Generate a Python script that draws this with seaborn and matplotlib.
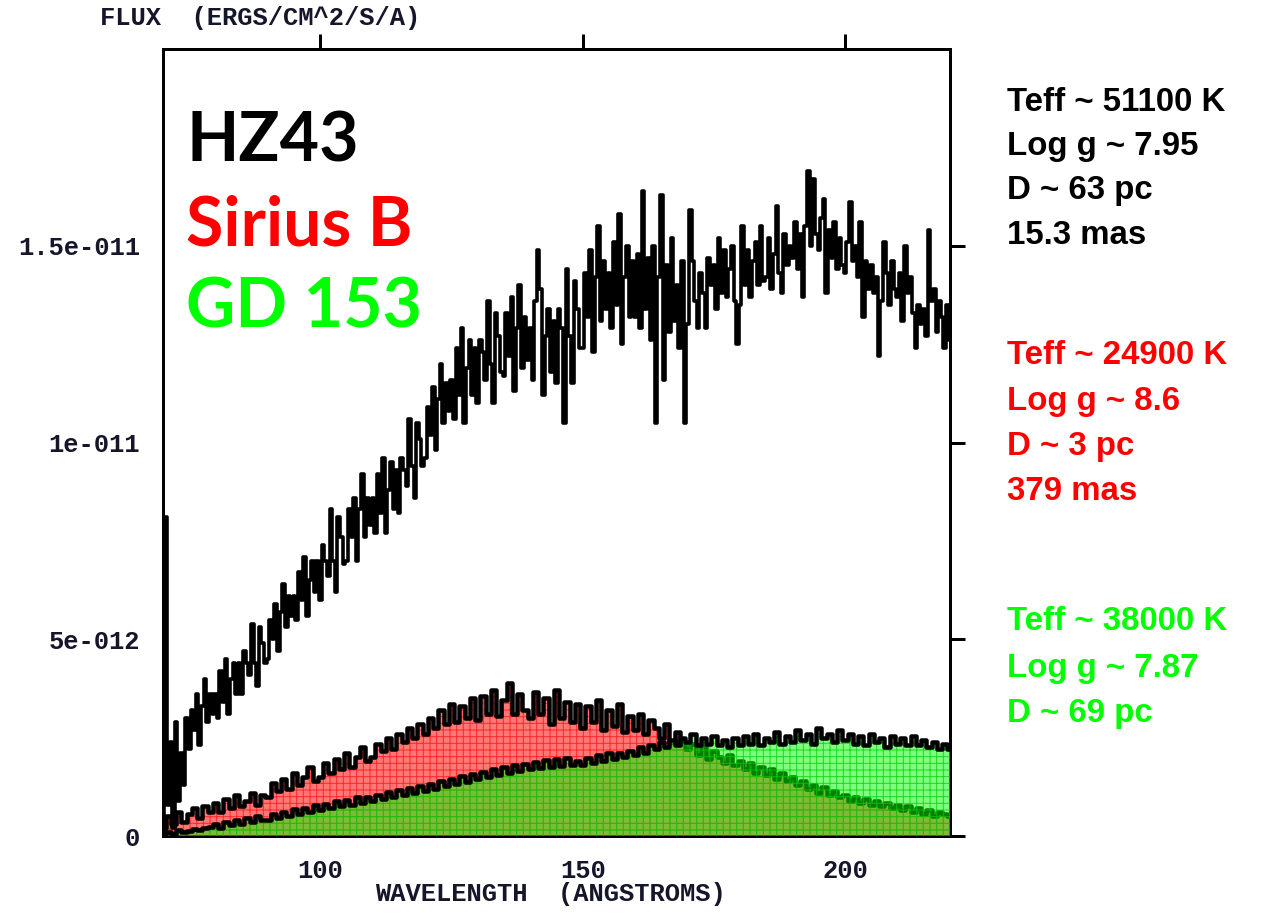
import numpy as np
import matplotlib
matplotlib.use("Agg")
import matplotlib.pyplot as plt
import seaborn as sns

# ---------------- data (flux in units of 1e-12 erg/cm^2/s/A) ----------------
hz43_start, hz43_step = 70.0, 0.5
hz43_flux = [
    0.3, 8.1, 0.8, 2.4, 0.2, 2.9, 0.9, 2.1, 1.3, 3.0,
    2.2, 3.2, 2.7, 3.6, 2.3, 3.3, 4.0, 2.9, 3.6, 3.1,
    3.6, 3.0, 4.2, 3.4, 4.5, 3.1, 4.0, 4.4, 3.6, 4.4,
    3.6, 4.7, 4.4, 4.1, 5.4, 4.4, 3.8, 5.3, 4.9, 4.4,
    4.5, 5.5, 5.0, 5.9, 4.7, 5.7, 6.4, 5.3, 6.1, 5.6,
    6.1, 5.5, 6.7, 6.0, 7.1, 5.6, 6.5, 7.0, 6.2, 7.0,
    6.0, 7.4, 7.0, 6.6, 8.3, 7.0, 6.2, 8.1, 7.6, 6.9,
    7.0, 8.3, 7.6, 8.6, 7.0, 8.3, 9.2, 7.6, 8.6, 7.9,
    8.6, 7.7, 9.2, 8.2, 9.6, 7.7, 8.8, 9.5, 8.3, 9.3,
    8.2, 9.6, 9.3, 8.9, 10.6, 9.4, 8.6, 10.5, 10.1, 9.4,
    9.6, 10.9, 10.2, 11.4, 9.8, 11.1, 12.0, 10.5, 11.5, 10.8,
    11.6, 10.6, 12.4, 11.2, 12.9, 10.5, 11.9, 12.6, 11.2, 12.4,
    11.0, 12.6, 12.3, 11.6, 13.6, 12.0, 11.0, 13.3, 12.7, 11.8,
    11.7, 13.3, 12.2, 13.7, 11.3, 12.9, 14.0, 11.9, 13.2, 12.1,
    12.9, 11.6, 13.6, 14.9, 13.9, 11.2, 12.7, 13.4, 11.8, 13.1,
    11.5, 13.4, 12.9, 10.5, 14.4, 12.7, 11.5, 14.1, 13.4, 12.4,
    12.4, 14.3, 13.2, 14.9, 12.3, 14.2, 15.5, 13.1, 14.6, 13.4,
    14.3, 12.9, 15.1, 13.5, 15.8, 12.5, 14.2, 15.0, 13.2, 14.6,
    13.2, 14.8, 12.9, 16.4, 13.4, 14.7, 12.6, 15.0, 10.5, 14.2,
    16.3, 11.6, 14.5, 12.8, 15.2, 13.1, 14.0, 12.4, 14.6, 10.5,
    13.0, 15.9, 14.6, 13.6, 12.9, 14.3, 13.8, 12.9, 14.7, 14.0,
    14.5, 13.4, 15.2, 13.8, 14.9, 13.7, 14.4, 15.0, 13.6, 12.5,
    13.5, 15.5, 14.0, 14.9, 13.7, 14.6, 15.1, 14.0, 15.5, 14.1,
    14.2, 15.2, 13.9, 14.8, 16.0, 14.3, 13.8, 15.3, 14.5, 15.0,
    14.7, 15.6, 14.4, 15.3, 13.7, 15.5, 16.9, 15.0, 16.7, 15.3,
    14.9, 15.7, 16.2, 13.8, 15.4, 14.7, 15.6, 14.4, 15.2, 14.5,
    14.3, 15.1, 16.1, 14.6, 15.0, 14.2, 15.6, 13.2, 14.6, 13.9,
    14.5, 13.8, 14.2, 12.2, 13.6, 15.1, 14.3, 13.5, 14.6, 13.9,
    13.7, 14.3, 13.1, 15.0, 13.8, 14.2, 13.3, 12.4, 13.5, 13.0,
    13.4, 12.7, 15.4, 13.6, 13.9, 12.8, 13.6, 13.2, 12.4, 13.5,
    12.6,
]

star_start, star_step = 70.0, 1.0
siriusb_flux = [
    0.2, 0.5, 0.3, 0.6, 0.35, 0.55, 0.7, 0.45, 0.75, 0.6,
    0.85, 0.6, 0.95, 0.7, 1.05, 0.75, 0.9, 1.1, 0.8, 1.05,
    1.0, 1.35, 1.15, 1.45, 1.2, 1.6, 1.3, 1.5, 1.75, 1.4,
    1.5, 1.85, 1.6, 1.95, 1.7, 2.1, 1.75, 2.0, 2.25, 1.9,
    2.0, 2.35, 2.15, 2.5, 2.2, 2.6, 2.4, 2.75, 2.5, 2.85,
    2.6, 3.0, 2.75, 3.2, 2.85, 3.35, 2.9, 3.3, 3.0, 3.5,
    2.95, 3.55, 3.1, 3.7, 3.05, 3.45, 3.9, 3.1, 3.6, 3.2,
    3.0, 3.65, 3.1, 3.5, 2.85, 3.7, 3.0, 3.4, 2.9, 3.35,
    2.75, 3.3, 2.9, 3.45, 2.7, 3.2, 2.8, 3.35, 2.65, 3.05,
    2.7, 3.1, 2.6, 2.95, 2.75, 2.5, 2.85, 2.4, 2.65, 2.35,
    2.2, 2.35, 2.05, 2.25, 1.95, 2.15, 2.0, 1.85, 2.05, 1.8,
    1.9, 1.7, 1.85, 1.6, 1.75, 1.55, 1.7, 1.45, 1.6, 1.4,
    1.5, 1.3, 1.4, 1.2, 1.3, 1.1, 1.25, 1.05, 1.15, 1.0,
    1.05, 0.9, 1.0, 0.85, 0.95, 0.8, 0.9, 0.75, 0.85, 0.7,
    0.8, 0.65, 0.75, 0.6, 0.7, 0.55, 0.65, 0.5, 0.6, 0.55,
    0.5,
]
gd153_flux = [
    0.05, 0.1, 0.05, 0.15, 0.1, 0.12, 0.18, 0.15, 0.2, 0.22,
    0.3, 0.2, 0.35, 0.28, 0.4, 0.3, 0.45, 0.35, 0.5, 0.4,
    0.4, 0.55, 0.45, 0.62, 0.5, 0.68, 0.55, 0.72, 0.6, 0.78,
    0.65, 0.82, 0.7, 0.88, 0.75, 0.92, 0.8, 0.98, 0.85, 1.0,
    0.9, 1.05, 0.95, 1.12, 1.0, 1.18, 1.05, 1.22, 1.1, 1.28,
    1.15, 1.32, 1.2, 1.4, 1.28, 1.45, 1.32, 1.52, 1.38, 1.58,
    1.45, 1.62, 1.5, 1.7, 1.55, 1.75, 1.6, 1.8, 1.65, 1.82,
    1.7, 1.88, 1.72, 1.92, 1.75, 1.95, 1.78, 1.98, 1.8, 1.9,
    1.8, 1.98, 1.85, 2.05, 1.9, 2.1, 1.95, 2.12, 2.0, 2.15,
    2.05, 2.25, 2.1, 2.3, 2.2, 2.4, 2.25, 2.45, 2.3, 2.5,
    2.4, 2.6, 2.3, 2.5, 2.35, 2.55, 2.3, 2.45, 2.25, 2.5,
    2.3, 2.55, 2.35, 2.6, 2.3, 2.5, 2.4, 2.65, 2.35, 2.55,
    2.4, 2.7, 2.45, 2.6, 2.35, 2.75, 2.5, 2.6, 2.4, 2.7,
    2.45, 2.6, 2.35, 2.55, 2.3, 2.6, 2.4, 2.5, 2.25, 2.55,
    2.35, 2.5, 2.3, 2.55, 2.3, 2.45, 2.25, 2.4, 2.2, 2.35,
    2.2,
]

x_ticks = [100, 150, 200]
y_ticks = [0, 5e-12, 1e-11, 1.5e-11]
y_tick_labels = ["0", "5e-012", "1e-011", "1.5e-011"]

star_names = ["HZ43", "Sirius B", "GD 153"]
star_colors = ["#000000", "#ff0000", "#00ff00"]
info_blocks = [
    ["Teff ~ 51100 K", "Log g ~ 7.95", "D ~ 63 pc", "15.3 mas"],
    ["Teff ~ 24900 K", "Log g ~ 8.6", "D ~ 3 pc", "379 mas"],
    ["Teff ~ 38000 K", "Log g ~ 7.87", "D ~ 69 pc"],
]

# ---------------- build arrays ----------------
wl_hz = hz43_start + hz43_step * np.arange(len(hz43_flux))
wl_st = star_start + star_step * np.arange(len(siriusb_flux))
f_hz = np.array(hz43_flux) * 1e-12
f_sb = np.array(siriusb_flux) * 1e-12
f_gd = np.array(gd153_flux) * 1e-12

# ---------------- figure ----------------
sns.set_style("white")
DPI = 80
W, H = 1267, 913
plt.rcParams["hatch.linewidth"] = 0.9
fig = plt.figure(figsize=(W / DPI, H / DPI), dpi=DPI)

def px(v):  # pixels -> points
    return v * 72.0 / DPI

ax_l, ax_r, ax_t, ax_b = 163, 950, 49, 836
ax = fig.add_axes([ax_l / W, 1 - ax_b / H, (ax_r - ax_l) / W, (ax_b - ax_t) / H])

# Sirius B (red, hatched)
ax.fill_between(wl_st, 0, f_sb, step="mid", facecolor="#ff7878",
                edgecolor="#ff2a2a", hatch="++", linewidth=0, zorder=1)
sns.lineplot(x=wl_st, y=f_sb, ax=ax, color="black", linewidth=px(4.5),
             drawstyle="steps-mid", estimator=None, sort=False, zorder=2)
# GD 153 (green, translucent, hatched)
ax.fill_between(wl_st, 0, f_gd, step="mid", facecolor=(0.0, 1.0, 0.0, 0.5),
                edgecolor=(0.0, 0.8, 0.0, 0.75), hatch="++", linewidth=0, zorder=3)
sns.lineplot(x=wl_st, y=f_gd, ax=ax, color="black", linewidth=px(4.5),
             drawstyle="steps-mid", estimator=None, sort=False, zorder=4)
# HZ43
sns.lineplot(x=wl_hz, y=f_hz, ax=ax, color="black", linewidth=px(3.6),
             drawstyle="steps-mid", estimator=None, sort=False, zorder=5)

ax.set_xlim(70, 220)
ax.set_ylim(0, 2e-11)
ax.set_xticks(x_ticks)
ax.set_xticklabels([str(t) for t in x_ticks])
ax.set_yticks(y_ticks)
ax.set_yticklabels(y_tick_labels)

tick_font = dict(family="Liberation Mono", weight="bold", size=px(25.5))
label_color = "#16162a"
for lab in ax.get_xticklabels() + ax.get_yticklabels():
    lab.set_fontfamily("Liberation Mono")
    lab.set_fontweight("bold")
    lab.set_fontsize(px(25.5))
    lab.set_color(label_color)

ax.tick_params(axis="both", which="major", direction="out", length=px(15),
               width=px(3), color="black", pad=px(8),
               top=True, right=True, labeltop=False, labelright=False)
for sp in ax.spines.values():
    sp.set_visible(True)
    sp.set_linewidth(px(3))
    sp.set_color("black")

ax.set_xlabel("WAVELENGTH  (ANGSTROMS)", color=label_color, **tick_font)
ax.xaxis.set_label_coords((550 - ax_l) / (ax_r - ax_l), -(882 - ax_b) / (ax_b - ax_t))
ax.xaxis.label.set_va("top")
ax.set_ylabel("FLUX  (ERGS/CM^2/S/A)", rotation=0, ha="left", va="center",
              color=label_color, **tick_font)
ax.yaxis.set_label_coords((100 - ax_l) / (ax_r - ax_l), (ax_b - 18) / (ax_b - ax_t))

ax.grid(False)

# star names in the upper left
name_baselines = [162, 246, 328]
for name, col, yb in zip(star_names, star_colors, name_baselines):
    fig.text(186 / W, 1 - yb / H, name, color=col, fontsize=px(68),
             fontfamily="Lato", fontweight="bold", va="baseline", ha="left")

# parameter blocks on the right
block_baselines = [[111, 155, 199, 244], [364, 410, 455, 500], [630, 677, 722]]
for lines, col, ys in zip(info_blocks, star_colors, block_baselines):
    for txt, yb in zip(lines, ys):
        fig.text(1007 / W, 1 - yb / H, txt, color=col, fontsize=px(33),
                 fontfamily="Liberation Sans", fontweight="bold",
                 va="baseline", ha="left")

fig.savefig("out.png", dpi=DPI, facecolor="white")
